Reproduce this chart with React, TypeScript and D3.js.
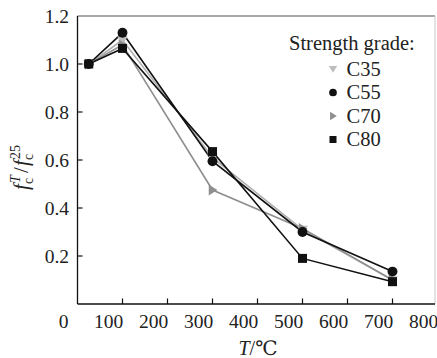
import React from "react";
import * as d3 from "d3";

// Temperature points (°C) and relative compressive strength per grade
const temps = [25, 100, 300, 500, 700];
const c35 = [1.0, 1.1, 0.61, 0.31, 0.1];
const c55 = [1.0, 1.13, 0.595, 0.3, 0.135];
const c70 = [1.0, 1.08, 0.475, 0.315, 0.1];
const c80 = [1.0, 1.065, 0.635, 0.19, 0.093];

const xTicks = [0, 100, 200, 300, 400, 500, 600, 700, 800];
const yTicks = [0.2, 0.4, 0.6, 0.8, 1.0, 1.2];
const grades = ["C35", "C55", "C70", "C80"];

const W = 437;
const H = 358;
const left = 77.5;
const top = 16;
const bottom = 304;
const frameRight = 435;

const x = d3.scaleLinear().domain([0, 800]).range([77.5, 437.5]);
const y = d3.scaleLinear().domain([0, 1.2]).range([bottom, top]);

const FONT = "Liberation Serif, Times New Roman, DejaVu Serif, serif";

type Shape = "down" | "circle" | "right" | "square";

const series: { name: string; values: number[]; color: string; line: string; shape: Shape }[] = [
  { name: grades[0], values: c35, color: "#bdbdbd", line: "#b0b0b0", shape: "down" },
  { name: grades[2], values: c70, color: "#8f8f8f", line: "#8f8f8f", shape: "right" },
  { name: grades[1], values: c55, color: "#111", line: "#111", shape: "circle" },
  { name: grades[3], values: c80, color: "#111", line: "#111", shape: "square" },
];

function Marker({ cx, cy, shape, color, s }: { cx: number; cy: number; shape: Shape; color: string; s: number }) {
  if (shape === "circle") return <circle cx={cx} cy={cy} r={s * 0.55} fill={color} />;
  if (shape === "square")
    return <rect x={cx - s / 2} y={cy - s / 2} width={s} height={s} fill={color} />;
  const h = s * 0.6;
  if (shape === "down")
    return <path d={`M${cx - h},${cy - h * 0.7}L${cx + h},${cy - h * 0.7}L${cx},${cy + h * 0.9}Z`} fill={color} />;
  return <path d={`M${cx - h * 0.7},${cy - h}L${cx - h * 0.7},${cy + h}L${cx + h * 0.9},${cy}Z`} fill={color} />;
}

export default function App() {
  const line = d3
    .line<number>()
    .x((_, i) => x(temps[i]))
    .y((v) => y(v));

  const legendOrder = [series[0], series[2], series[1], series[3]];

  return (
    <svg width={W} height={H} style={{ position: "absolute", left: 0, top: 0, background: "#fff", fontFamily: FONT }}>
      {/* frame */}
      <line x1={left} x2={frameRight} y1={top} y2={top} stroke="#555" strokeWidth={1.2} />
      <line x1={frameRight} x2={frameRight} y1={top} y2={bottom} stroke="#c8c8c8" strokeWidth={1} />
      <line x1={left} x2={left} y1={top} y2={bottom} stroke="#111" strokeWidth={1.3} />
      <line x1={left} x2={frameRight} y1={bottom} y2={bottom} stroke="#111" strokeWidth={1.3} />

      {/* x ticks */}
      {xTicks.map((t) => (
        <g key={t}>
          {t > 0 && t < 800 && (
            <line x1={x(t)} x2={x(t)} y1={bottom} y2={bottom - 5.5} stroke="#111" strokeWidth={1.2} />
          )}
          <text x={x(t) - 14} y={328} fontSize={19.5} textAnchor="middle" fill="#222">
            {t}
          </text>
        </g>
      ))}

      {/* y ticks */}
      {yTicks.map((t) => (
        <g key={t}>
          {t < 1.2 && <line x1={left} x2={left + 5} y1={y(t)} y2={y(t)} stroke="#111" strokeWidth={1.2} />}
          <text x={69} y={y(t) + 6.5} fontSize={19.5} textAnchor="end" fill="#222">
            {t.toFixed(1)}
          </text>
        </g>
      ))}

      {/* series lines */}
      {series.map((s) => (
        <path key={s.name} d={line(s.values) || ""} fill="none" stroke={s.line} strokeWidth={1.6} />
      ))}
      {/* series markers */}
      {series.map((s) =>
        s.values.map((v, i) => (
          <Marker key={s.name + i} cx={x(temps[i])} cy={y(v)} shape={s.shape} color={s.color} s={9} />
        ))
      )}

      {/* legend */}
      <text x={289} y={50} fontSize={20.5} fill="#222">
        Strength grade:
      </text>
      {legendOrder.map((s, i) => (
        <g key={s.name}>
          <Marker cx={333} cy={69 + i * 23.5} shape={s.shape} color={s.color} s={7} />
          <text x={346.5} y={75.5 + i * 23.5} fontSize={20.5} fill="#222">
            {s.name}
          </text>
        </g>
      ))}

      {/* x axis title */}
      <text x={258} y={355} fontSize={20} textAnchor="middle" fill="#222">
        <tspan fontStyle="italic">T</tspan>
        <tspan>/℃</tspan>
      </text>

      {/* y axis title */}
      <g transform="translate(28,163) rotate(-90)" fill="#222">
        <text x={-27} y={0} fontSize={21} fontStyle="italic">f</text>
        <text x={-20} y={-8} fontSize={14} fontStyle="italic">T</text>
        <text x={-21} y={5} fontSize={14}>c</text>
        <text x={-10} y={0} fontSize={21}>/</text>
        <text x={-3} y={0} fontSize={21} fontStyle="italic">f</text>
        <text x={4} y={-8} fontSize={14}>25</text>
        <text x={3} y={5} fontSize={14}>c</text>
      </g>
    </svg>
  );
}
